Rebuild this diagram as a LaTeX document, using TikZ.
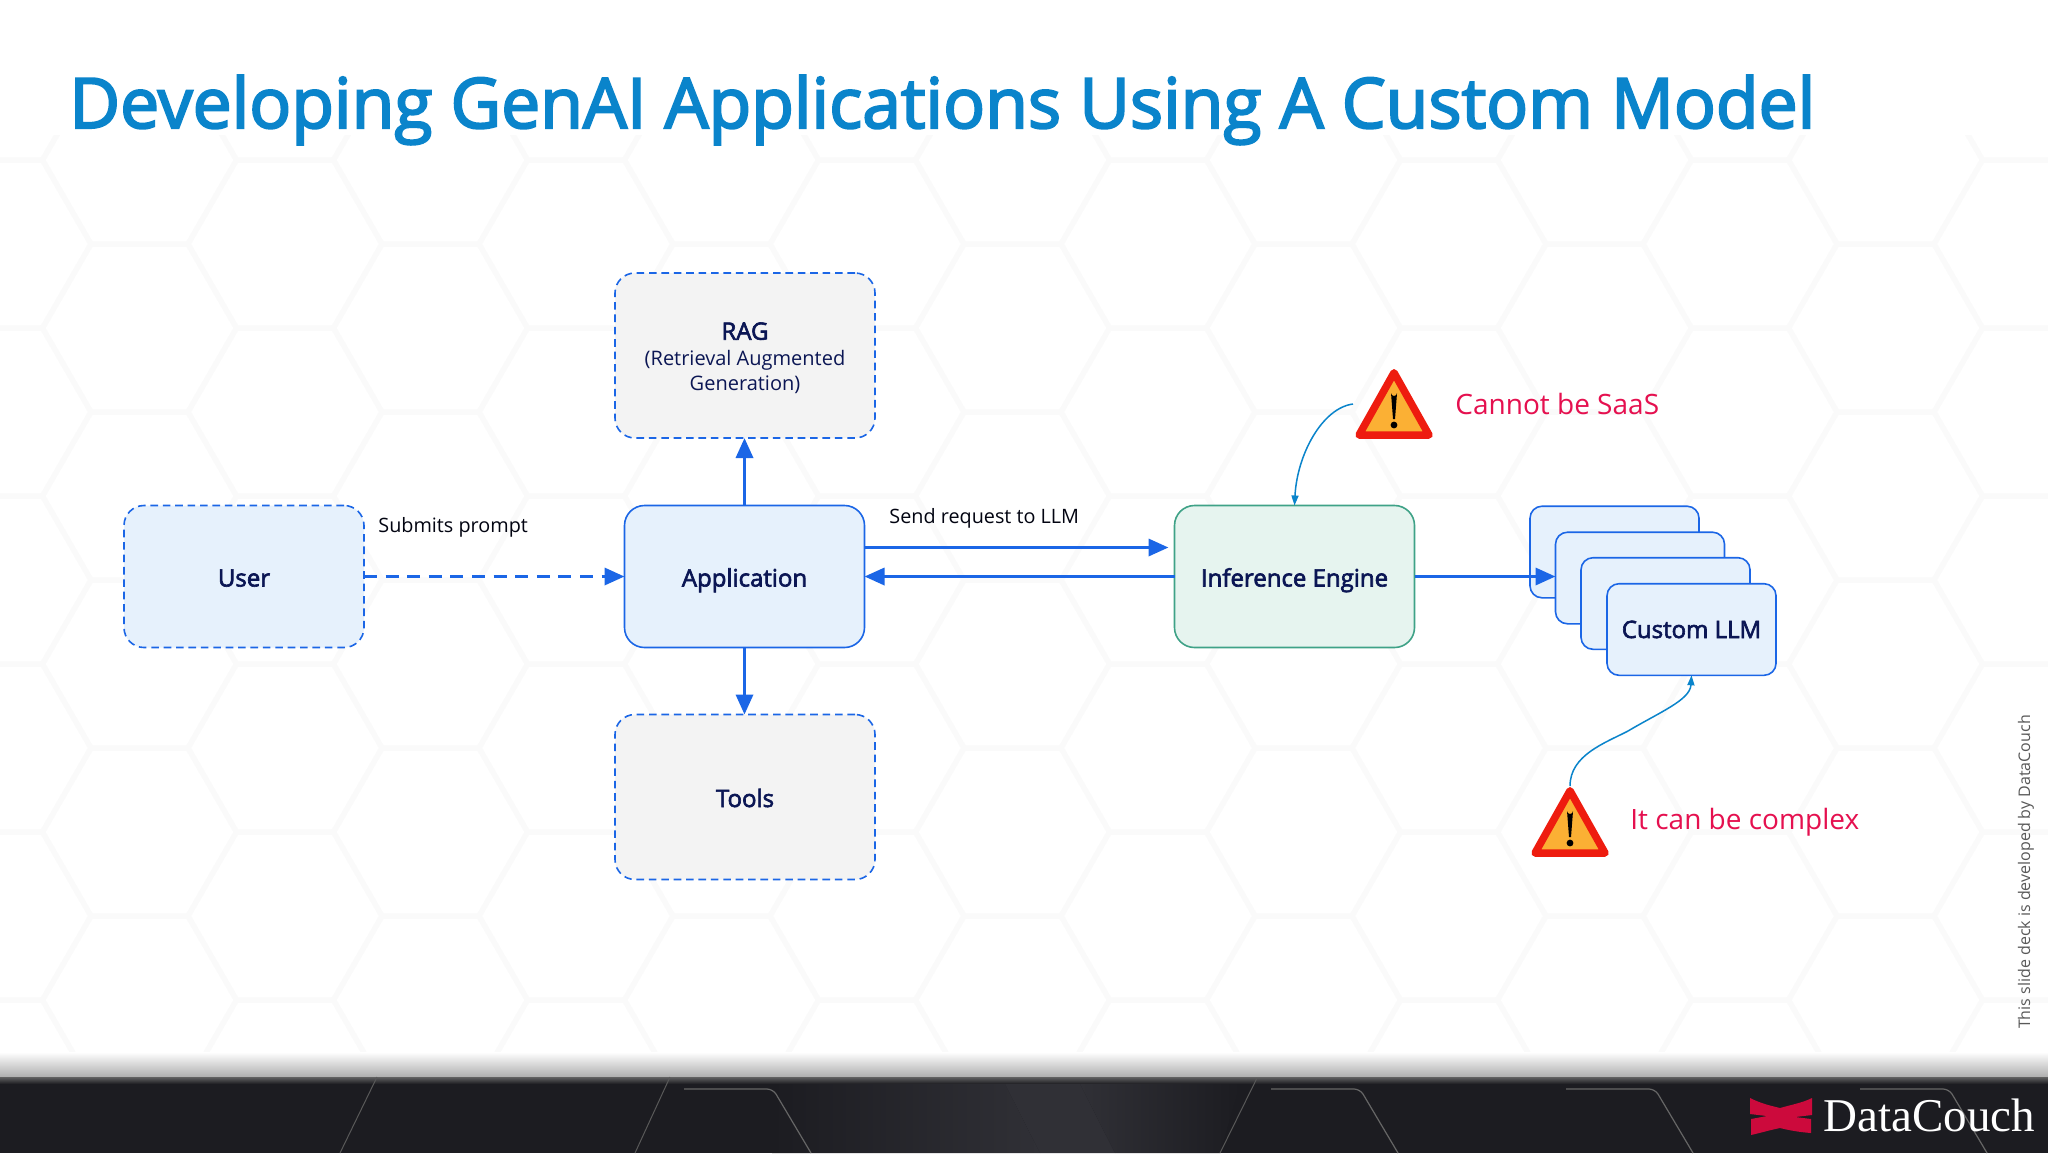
\documentclass[tikz,border=0pt]{standalone}
\usepackage{fontspec}
\setmainfont{Open Sans}
\newfontfamily\semifont{Open Sans}[FakeBold=2.6]
\newfontfamily\titlefont{Open Sans}[FakeBold=3]
\newfontfamily\logofont{Liberation Serif}
\usetikzlibrary{arrows.meta}
\definecolor{titleblue}{HTML}{0A84CB}
\definecolor{linkblue}{HTML}{1B66E6}
\definecolor{boxfill}{HTML}{E6F1FC}
\definecolor{greyfill}{HTML}{F3F3F3}
\definecolor{enginefill}{HTML}{E6F4EF}
\definecolor{engineline}{HTML}{3FA287}
\definecolor{navytext}{HTML}{0B1654}
\definecolor{alerttext}{HTML}{E5104F}
\definecolor{footer}{HTML}{1C1C21}
\definecolor{footerlight}{HTML}{303036}
\definecolor{hexline}{HTML}{FAFAFA}
\definecolor{warnred}{HTML}{EE1C0F}
\definecolor{warnfill}{HTML}{FBB034}
\definecolor{logored}{HTML}{CC0A3C}
\tikzset{
  box/.style={draw=linkblue,line width=0.8pt,rounded corners=10pt,inner sep=0pt,outer sep=0pt,
    minimum width=120pt,minimum height=71pt,fill=boxfill,text=navytext,align=center,
    font=\semifont\fontsize{12}{15}\selectfont},
  oneline/.style={text height=12pt,text depth=2pt},
  dashbox/.style={box,dash pattern=on 3.8pt off 2.4pt},
  sidebox/.style={dashbox,fill=greyfill,minimum width=130pt,minimum height=82.5pt},
  stackbox/.style={box,rounded corners=6pt,minimum width=84.5pt,minimum height=45.8pt},
  flow/.style={draw=linkblue,line width=1.7pt,-{Triangle[length=10pt,width=8.5pt]}},
  note/.style={draw=titleblue,line width=0.75pt,-{Triangle[length=5pt,width=3.5pt]}},
  edgelabel/.style={text=black!80!navytext,inner sep=0pt,font=\fontsize{9.9}{13}\selectfont},
  alert/.style={text=alerttext,inner sep=0pt,font=\fontsize{14}{16}\selectfont},
  warn/.pic={
    \draw[draw=warnred,fill=warnfill,line width=3.75pt,line join=round]
      (0,3.75) -- (-35,66) -- (35,66) -- cycle;
    \fill[black] (-3,24) arc[start angle=180,end angle=0,radius=3] -- (1,50) -- (-1,50) -- cycle;
    \fill[black] (0,56) circle[radius=3.4];
  }
}
\newcommand{\ragsmall}{\normalfont\fontsize{10}{12.5}\selectfont}
\begin{document}
\begin{tikzpicture}[x=0.5pt,y=-0.5pt]
\useasboundingbox (0,0) rectangle (2048,1153);
\clip (0,0) rectangle (2048,1153);
\fill[white] (0,0) rectangle (2048,1153);

% honeycomb in the background
\begin{scope}
\clip (0,135) rectangle (2048,1060);
\foreach \col in {-2,...,14}{
  \foreach \row in {-1,...,6}{
    \pgfmathsetmacro{\cx}{285+(\col-2)*145.5}
    \pgfmathsetmacro{\cy}{412+(\row-1)*168+mod(\col+20,2)*84}
    \draw[hexline,line width=2.5pt,line join=round]
      (\cx-97,\cy) -- (\cx-48.5,\cy-84) -- (\cx+48.5,\cy-84) -- (\cx+97,\cy)
      -- (\cx+48.5,\cy+84) -- (\cx-48.5,\cy+84) -- cycle;
  }
}
\end{scope}

% footer band
\shade[top color=white,bottom color=black!32] (0,1052) rectangle (2048,1077);
\fill[footer] (0,1077) rectangle (2048,1153);
\shade[top color=black!62,bottom color=footer] (0,1077) rectangle (2048,1084);
\shade[left color=footer,right color=footerlight] (772,1084) -- (1005,1084) -- (1040,1153) -- (772,1153) -- cycle;
\fill[footerlight] (1005,1084) -- (1080,1084) -- (1115,1153) -- (1040,1153) -- cycle;
\shade[left color=footerlight,right color=footer] (1080,1084) -- (1240,1084) -- (1220,1153) -- (1115,1153) -- cycle;
\draw[black!65!white,line width=0.5pt,line join=round]
  (377,1077) -- (340,1153) (670,1077) -- (635,1153) (1257,1078) -- (1220,1153);
\foreach \xa in {684,1271,1566,1860}{
  \draw[black!60!white,line width=0.6pt,rounded corners=3pt]
    (\xa,1089) -- (\xa+89,1089) -- (\xa+127,1153);
}
% logo
\fill[logored] (1750,1098) .. controls (1762,1104) and (1772,1106) .. (1780,1108)
  .. controls (1790,1105) and (1802,1103) .. (1812,1098) -- (1812,1115) -- (1795,1117) -- (1811,1119)
  -- (1811,1133) .. controls (1798,1132) and (1788,1130) .. (1780,1128)
  .. controls (1770,1130) and (1760,1133) .. (1751,1135) -- (1751,1119) -- (1767,1116) -- (1750,1114) -- cycle;
\node[anchor=base west,inner sep=0pt,text=white,font=\logofont\fontsize{23.5}{28}\selectfont] (logo) at (1823,1131) {DataCouch};

% title and side text
\node[anchor=base west,inner sep=0pt,text=titleblue,font=\titlefont\fontsize{34.8}{42}\selectfont] (title) at (69,128)
  {Developing GenAI Applications Using A Custom Model};
\node[rotate=90,inner sep=0pt,text=black!65,font=\fontsize{8}{10}\selectfont] (credit) at (2026,872)
  {This slide deck is developed by DataCouch};

% boxes
\node[dashbox,oneline] (user) at (244,576.5) {User};
\node[box,oneline] (app) at (744.5,576.5) {Application};
\node[sidebox] (rag) at (745,355.5) {\rule{0pt}{11.2pt}RAG\\[-2pt]\ragsmall (Retrieval Augmented\\[-2.6pt]\ragsmall Generation)};
\node[sidebox,oneline] (tools) at (745,797) {Tools};
\node[box,oneline,draw=engineline,fill=enginefill] (engine) at (1294.5,576.5) {Inference Engine};
\node[stackbox] (stackA) at (1614.5,552) {};
\node[stackbox] (stackB) at (1640,578) {};
\node[stackbox] (stackC) at (1665.5,603.5) {};
\node[stackbox,text height=10.5pt,text depth=2pt] (custom) at (1691.5,629.5) {Custom LLM};

% connectors
\draw[flow,dash pattern=on 6.5pt off 4.3pt] (user.east) -- (app.west);
\draw[flow] (app.north) -- (app.north |- rag.south);
\draw[flow] (app.south) -- (app.south |- tools.north);
\draw[flow,shorten >=3pt] ([yshift=14.5pt]app.east) -- ([yshift=14.5pt]engine.west);
\draw[flow] (engine.west) -- (app.east);
\draw[flow] (engine.east) -- (engine.east -| stackB.west);

\node[edgelabel,anchor=base west] (submit) at (378,532) {Submits prompt};
\node[edgelabel,anchor=base west] (send) at (889,523) {Send request to LLM};

% warnings
\pic at (1394,369) {warn};
\pic at (1570,787) {warn};
\coordinate (warnA) at (1353,404);
\coordinate (warnB) at (1570,786);
\node[alert,anchor=west] (saas) at (1455,404) {Cannot be SaaS};
\node[alert,anchor=west] (complex) at (1630,822) {It can be complex};
\draw[note] (warnA) .. controls (1322,408) and (1297,455) .. (engine.north);
\draw[note] (warnB) .. controls (1570,755) and (1605,743) .. (1628,731)
  .. controls (1660,712) and (1690,700) .. (custom.south);
\end{tikzpicture}
\end{document}
